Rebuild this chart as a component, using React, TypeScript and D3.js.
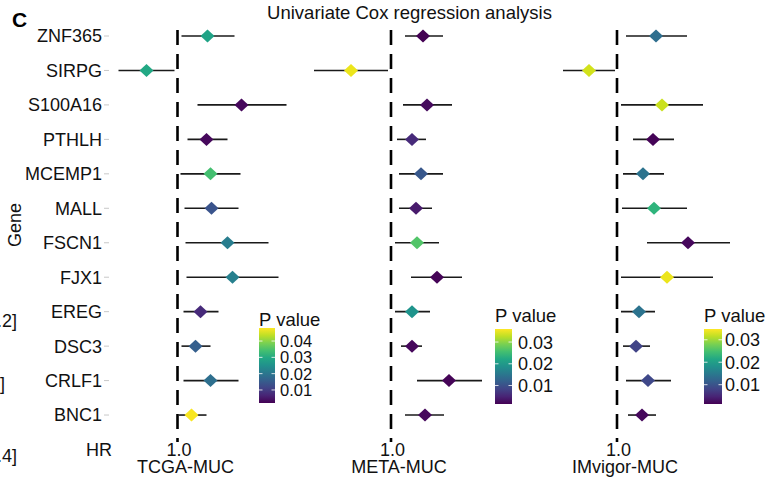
import React from "react";
import * as d3 from "d3";

const genes = ["ZNF365", "SIRPG", "S100A16", "PTHLH", "MCEMP1", "MALL", "FSCN1", "FJX1", "EREG", "DSC3", "CRLF1", "BNC1"];
const cohorts = ["TCGA-MUC", "META-MUC", "IMvigor-MUC"];

// Hazard ratios and 95% CI per cohort (gene order as above)
const tcgaHR = [1.30, 0.69, 1.64, 1.29, 1.33, 1.34, 1.50, 1.55, 1.23, 1.18, 1.33, 1.14];
const tcgaLo = [1.04, 0.41, 1.20, 1.10, 1.03, 1.07, 1.08, 1.09, 1.06, 1.04, 1.06, 1.01];
const tcgaHi = [1.57, 0.97, 2.09, 1.50, 1.63, 1.61, 1.91, 2.01, 1.41, 1.33, 1.61, 1.29];
const tcgaP = [0.0287, 0.0296, 0.0029, 0.0029, 0.0342, 0.014, 0.0213, 0.0218, 0.0075, 0.0158, 0.0186, 0.0475];

const metaHR = [1.32, 0.60, 1.36, 1.21, 1.30, 1.25, 1.26, 1.46, 1.21, 1.21, 1.58, 1.34];
const metaLo = [1.14, 0.23, 1.12, 1.06, 1.08, 1.08, 1.04, 1.20, 1.04, 1.10, 1.26, 1.14];
const metaHi = [1.52, 0.97, 1.61, 1.35, 1.52, 1.41, 1.48, 1.71, 1.39, 1.31, 1.91, 1.53];
const metaP = [0.0015, 0.035, 0.0025, 0.0056, 0.0108, 0.0039, 0.0267, 0.0018, 0.0194, 0.0022, 0.0018, 0.0022];

const imvHR = [1.39, 0.72, 1.45, 1.36, 1.26, 1.37, 1.71, 1.50, 1.22, 1.19, 1.31, 1.25];
const imvLo = [1.09, 0.46, 1.04, 1.16, 1.06, 1.05, 1.30, 1.04, 1.04, 1.06, 1.09, 1.11];
const imvHi = [1.70, 0.98, 1.86, 1.57, 1.47, 1.70, 2.13, 1.96, 1.38, 1.33, 1.54, 1.39];
const imvP = [0.0134, 0.0325, 0.0321, 0.0017, 0.0141, 0.0231, 0.0021, 0.0338, 0.0141, 0.0081, 0.0087, 0.0021];

const tcgaTicks = [0.01, 0.02, 0.03, 0.04];
const metaTicks = [0.01, 0.02, 0.03];
const imvTicks = [0.01, 0.02, 0.03];

const pDomains = [
  [0.002, 0.048],
  [0.0015, 0.036],
  [0.0014, 0.0348],
];

const FONT = "'Liberation Sans', Arial, Helvetica, sans-serif";

const panels = [
  { name: cohorts[0], hr: tcgaHR, lo: tcgaLo, hi: tcgaHi, p: tcgaP, ticks: tcgaTicks, pd: pDomains[0], lineX: 177.5, leg: { x: 259, w: 16, titleY: 326, top: 328, bottom: 403, labelX: 280, fs: 16.5 } },
  { name: cohorts[1], hr: metaHR, lo: metaLo, hi: metaHi, p: metaP, ticks: metaTicks, pd: pDomains[1], lineX: 391, leg: { x: 495, w: 17, titleY: 322, top: 329, bottom: 404, labelX: 518, fs: 18 } },
  { name: cohorts[2], hr: imvHR, lo: imvLo, hi: imvHi, p: imvP, ticks: imvTicks, pd: pDomains[2], lineX: 617, leg: { x: 704, w: 18, titleY: 322, top: 329, bottom: 404, labelX: 725, fs: 18 } },
];

export default function App() {
  const y = d3.scalePoint<string>().domain([...genes, "HR"]).range([36, 449.5]);
  const stops = d3.range(0, 1.0001, 0.1);

  return (
    <svg width={772} height={481} style={{ position: "absolute", left: 0, top: 0, background: "#fff" }} fontFamily={FONT}>
      <defs>
        <linearGradient id="vir" x1="0" y1="1" x2="0" y2="0">
          {stops.map((s) => (
            <stop key={s} offset={s} stopColor={d3.interpolateViridis(s)} />
          ))}
        </linearGradient>
      </defs>
      <rect x={0} y={0} width={772} height={481} fill="#fff" />

      {/* cut-off fragments from neighbour panel */}
      <text x={17} y={326.5} fontSize={18} textAnchor="end" fill="#111">1.2]</text>
      <text x={5} y={389.5} fontSize={18} textAnchor="end" fill="#111">]</text>
      <text x={17} y={461.5} fontSize={18} textAnchor="end" fill="#111">1.4]</text>

      <text x={12} y={27} fontSize={21} fontWeight="bold" fill="#000">C</text>
      <text x={409.5} y={18.5} fontSize={18.5} textAnchor="middle" fill="#111">Univariate Cox regression analysis</text>

      <text transform={`translate(21,225) rotate(-90)`} fontSize={18} textAnchor="middle" fill="#111">Gene</text>

      {genes.map((g) => (
        <g key={g}>
          <text x={102} y={(y(g) as number) + 6.4} fontSize={18} textAnchor="end" fill="#111">{g}</text>
          <line x1={104} x2={109} y1={y(g)} y2={y(g)} stroke="#c8c8c8" strokeWidth={1} />
        </g>
      ))}
      <text x={112} y={(y("HR") as number) + 6.4} fontSize={18} textAnchor="end" fill="#111">HR</text>

      {panels.map((pn) => {
        const x = d3.scaleLinear().domain([0.2, 2.4]).range([pn.lineX - 80, pn.lineX + 140]);
        const cScale = d3.scaleSequential(d3.interpolateViridis).domain(pn.pd as [number, number]);
        const ly = d3.scaleLinear().domain(pn.pd as [number, number]).range([pn.leg.bottom, pn.leg.top]);
        const x1 = x(1);
        return (
          <g key={pn.name}>
            <line x1={x1} x2={x1} y1={30} y2={442} stroke="#000" strokeWidth={2.6} strokeDasharray="15 9" />
            {genes.map((g, i) => {
              const cy = y(g) as number;
              const cx = x(pn.hr[i]);
              const dw = 7, dh = 6.5;
              return (
                <g key={g}>
                  <line x1={x(pn.lo[i])} x2={x(pn.hi[i])} y1={cy} y2={cy} stroke="#1a1a1a" strokeWidth={1.6} />
                  <path d={`M${cx - dw},${cy}L${cx},${cy - dh}L${cx + dw},${cy}L${cx},${cy + dh}Z`} fill={cScale(pn.p[i])} />
                </g>
              );
            })}
            <text x={x1 + 1.5} y={455.5} fontSize={18} textAnchor="middle" fill="#111">1.0</text>
            <text x={x1 + 8} y={472.5} fontSize={18} textAnchor="middle" fill="#111">{pn.name}</text>

            {/* legend */}
            <text x={pn.leg.x} y={pn.leg.titleY} fontSize={18.5} fill="#111">P value</text>
            <rect x={pn.leg.x} y={pn.leg.top} width={pn.leg.w} height={pn.leg.bottom - pn.leg.top} fill="url(#vir)" />
            {pn.ticks.map((t) => (
              <g key={t}>
                <line x1={pn.leg.x} x2={pn.leg.x + 3.5} y1={ly(t)} y2={ly(t)} stroke="#fff" strokeWidth={1} opacity={0.8} />
                <line x1={pn.leg.x + pn.leg.w - 3.5} x2={pn.leg.x + pn.leg.w} y1={ly(t)} y2={ly(t)} stroke="#fff" strokeWidth={1} opacity={0.8} />
                <text x={pn.leg.labelX} y={ly(t) + pn.leg.fs * 0.36} fontSize={pn.leg.fs} fill="#111">{t.toFixed(2)}</text>
              </g>
            ))}
          </g>
        );
      })}
    </svg>
  );
}
